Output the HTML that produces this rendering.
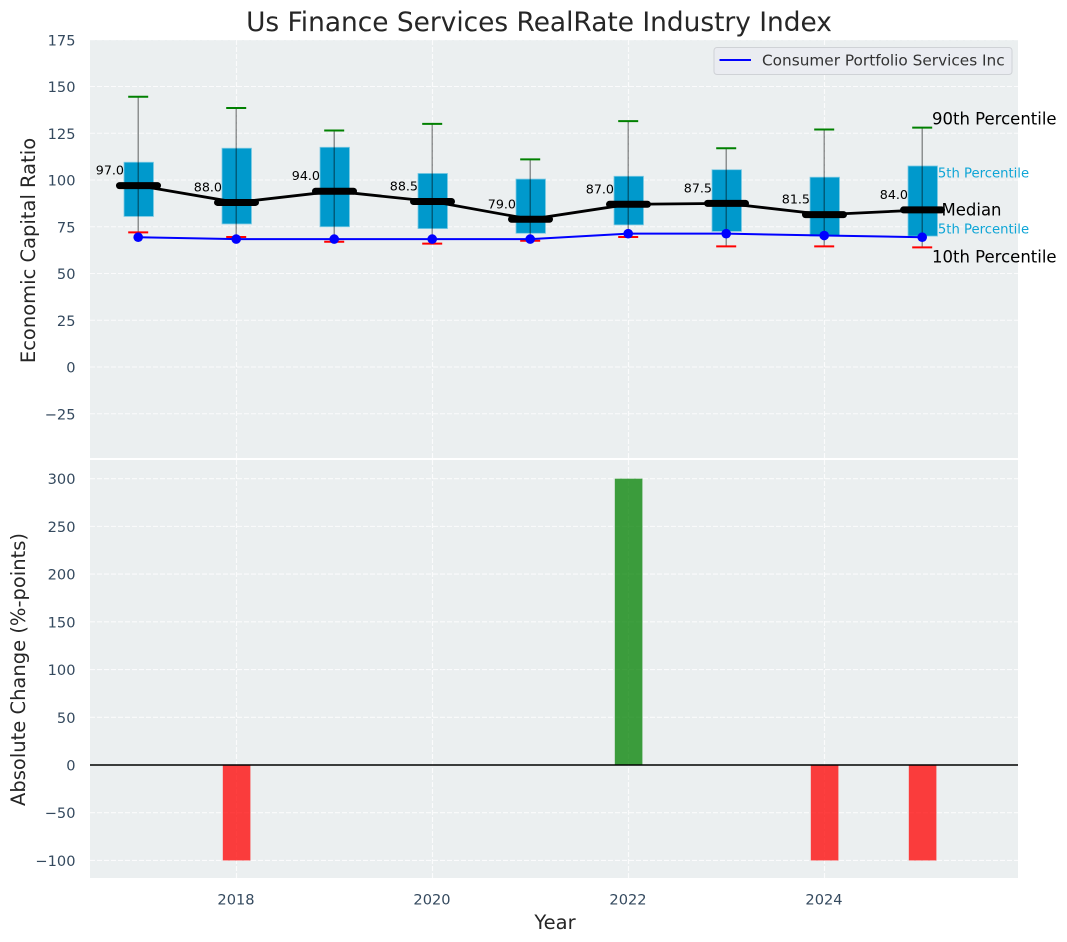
<!DOCTYPE html>
<html>
<head>
<meta charset="utf-8">
<title>Us Finance Services RealRate Industry Index</title>
<style>
html,body{margin:0;padding:0;background:#fff;}
svg{display:block;font-family:"DejaVu Sans","Liberation Sans",sans-serif;}
</style>
</head>
<body>
<svg id="chart" width="1067" height="942" viewBox="0 0 1067 942" xmlns="http://www.w3.org/2000/svg">
<defs>
<clipPath id="clip-top"><rect x="90" y="40" width="928" height="418"/></clipPath>
<clipPath id="clip-bottom"><rect x="90" y="460" width="928" height="418"/></clipPath>
</defs>
<text x="539" y="31" text-anchor="middle" font-size="26.4" fill="#262626">Us Finance Services RealRate Industry Index</text>
<rect x="90" y="40" width="928" height="418" fill="#ebeff0"/>
<rect x="90" y="460" width="928" height="418" fill="#ebeff0"/>
<g id="top-layer" clip-path="url(#clip-top)"></g>
<g id="bottom-layer" clip-path="url(#clip-bottom)"></g>
<g id="over-layer"></g>
<text transform="translate(35,250.500) rotate(-90)" text-anchor="middle" font-size="19.500" fill="#262626">Economic Capital Ratio</text>
<text transform="translate(25,669.500) rotate(-90)" text-anchor="middle" font-size="19.500" fill="#262626">Absolute Change (%-points)</text>
<text x="555" y="929" text-anchor="middle" font-size="19.500" fill="#262626">Year</text>
<g>
<rect x="714" y="47.500" width="298" height="27" rx="3" fill="#eaecf1" stroke="#cfd2d6" stroke-width="1"/>
<line x1="719.500" y1="60" x2="751" y2="60" stroke="#0000ff" stroke-width="2"/>
<text x="762" y="65.500" font-size="15.300" fill="#333333">Consumer Portfolio Services Inc</text>
</g>
<script>
const years = [2017, 2018, 2019, 2020, 2021, 2022, 2023, 2024, 2025];
const p90 = [144.5, 138.5, 126.5, 130, 111, 131.5, 117, 127, 128];
const q3 = [109.5, 117, 117.5, 103.5, 100.5, 102, 105.5, 101.5, 107.5];
const median = [97, 88, 94, 88.5, 79, 87, 87.5, 81.5, 84];
const q1 = [80.5, 76.5, 75, 74, 71.5, 76, 72.5, 70, 70];
const p10 = [72, 69.5, 67, 66, 67.5, 69.5, 64.5, 64.5, 64];
const company = [69.4, 68.4, 68.4, 68.4, 68.4, 71.3, 71.3, 70.3, 69.4];
const change = [0, -100, 0, 0, 0, 300, 0, -100, -100];
const xTicks = [2018, 2020, 2022, 2024];
const topTicks = [175, 150, 125, 100, 75, 50, 25, 0, -25];
const bottomTicks = [300, 250, 200, 150, 100, 50, 0, -50, -100];

const NS = 'http://www.w3.org/2000/svg';
const topLayer = document.getElementById('top-layer');
const bottomLayer = document.getElementById('bottom-layer');
const overLayer = document.getElementById('over-layer');
const chart = document.getElementById('chart');

function xScale(v) { return 236.5 + (v - 2018) * 98; }
function yTop(v) { return 367 - v * 1.87; }
function yBottom(v) { return 765 - v * 0.9545; }

function make(parent, tag, attrs, txt) {
  const el = document.createElementNS(NS, tag);
  for (const k in attrs) el.setAttribute(k, attrs[k]);
  if (txt !== undefined) el.textContent = txt;
  parent.appendChild(el);
  return el;
}
function mathLabel(v) { return v < 0 ? '\u2212' + Math.abs(v) : String(v); }

function drawGrid(layer, ticks, yFn, prefix, y1, y2) {
  ticks.forEach(function (t) {
    const g = make(layer, 'line', { x1: 90, x2: 1018, y1: yFn(t), y2: yFn(t), stroke: '#ffffff', 'stroke-width': 1.1, 'stroke-dasharray': '5 2', opacity: 0.8 });
    
    
    const lab = make(chart, 'text', { x: 75.5, y: yFn(t) + 5.5, 'text-anchor': 'end', 'font-size': 14.6, fill: '#34495e' }, mathLabel(t));
    
    
  });
  xTicks.forEach(function (t) {
    const g = make(layer, 'line', { x1: xScale(t), x2: xScale(t), y1: y1, y2: y2, stroke: '#ffffff', 'stroke-width': 1.1, 'stroke-dasharray': '5 2', opacity: 0.8 });
    
    
  });
}
drawGrid(topLayer, topTicks, yTop, 'top', 40, 458);
drawGrid(bottomLayer, bottomTicks, yBottom, 'bottom', 460, 878);

xTicks.forEach(function (t) {
  const lab = make(chart, 'text', { x: xScale(t) - 0.5, y: 904.5, 'text-anchor': 'middle', 'font-size': 14.6, fill: '#34495e' }, String(t));
  
  
});

/* percentile captions sit beneath the boxes */
const last = years.length - 1;
const lastX = xScale(years[last]);
const cap75 = make(overLayer, 'text', { x: lastX + 7, y: yTop(q3[last]) + 11.5, 'font-size': 13.2, fill: '#0ea5d6' }, '75th Percentile');


const cap25 = make(overLayer, 'text', { x: lastX + 7, y: yTop(q1[last]) - 2.5, 'font-size': 13.2, fill: '#0ea5d6' }, '25th Percentile');


const capMed = make(overLayer, 'text', { x: lastX + 19, y: yTop(median[last]) + 5.5, 'font-size': 16.5, fill: '#000000' }, 'Median');


const cap90 = make(overLayer, 'text', { x: lastX + 9.5, y: yTop(p90[last]) - 3, 'font-size': 16.5, fill: '#000000' }, '90th Percentile');


const cap10 = make(overLayer, 'text', { x: lastX + 9.5, y: yTop(p10[last]) + 15, 'font-size': 16.5, fill: '#000000' }, '10th Percentile');



/* boxes */
years.forEach(function (yr, i) {
  const x = xScale(yr);
  const box = make(overLayer, 'rect', { x: x - 14.5, y: yTop(q3[i]), width: 29.5, height: yTop(q1[i]) - yTop(q3[i]), fill: '#0099cc', stroke: '#7fcbe4', 'stroke-width': 0.8 });
  
  
  const lab = make(overLayer, 'text', { x: x - 14.5, y: yTop(median[i]) - 11, 'text-anchor': 'end', 'font-size': 12.7, fill: '#000000' }, median[i].toFixed(1));
  
  
});

/* whiskers and caps */
years.forEach(function (yr, i) {
  const x = xScale(yr);
  const wh = make(overLayer, 'line', { x1: x - 0.3, x2: x - 0.3, y1: yTop(p90[i]), y2: yTop(p10[i]), stroke: '#000000', 'stroke-opacity': 0.5, 'stroke-width': 1.2 });
  
  
  const up = make(overLayer, 'line', { x1: x - 10.3, x2: x + 9.7, y1: yTop(p90[i]), y2: yTop(p90[i]), stroke: '#008000', 'stroke-width': 2 });
  
  
  const lo = make(overLayer, 'line', { x1: x - 10.3, x2: x + 9.7, y1: yTop(p10[i]), y2: yTop(p10[i]), stroke: '#ff0000', 'stroke-width': 2 });
  
  
});

/* median line */
const medPts = years.map(function (yr, i) { return xScale(yr) + ',' + yTop(median[i]); }).join(' ');
const medLine = make(overLayer, 'polyline', { points: medPts, fill: 'none', stroke: '#000000', 'stroke-width': 2.8 });


years.forEach(function (yr, i) {
  const x = xScale(yr);
  const m = make(overLayer, 'line', { x1: x - 19, x2: x + 19, y1: yTop(median[i]), y2: yTop(median[i]), stroke: '#000000', 'stroke-width': 7, 'stroke-linecap': 'round' });
  
  
});

/* company line */
const coPts = years.map(function (yr, i) { return xScale(yr) + ',' + yTop(company[i]); }).join(' ');
const coLine = make(overLayer, 'polyline', { points: coPts, fill: 'none', stroke: '#0000ff', 'stroke-width': 2 });


years.forEach(function (yr, i) {
  const c = make(overLayer, 'circle', { cx: xScale(yr) - 0.3, cy: yTop(company[i]), r: 4.8, fill: '#0000ff' });
  
  
});

/* change bars */
years.forEach(function (yr, i) {
  if (change[i] === 0) return;
  const x = xScale(yr);
  const y0 = yBottom(Math.max(change[i], 0));
  const y1 = yBottom(Math.min(change[i], 0));
  const b = make(bottomLayer, 'rect', { x: x - 13.7, y: y0, width: 27.6, height: y1 - y0, fill: change[i] > 0 ? '#008000' : '#ff0000', 'fill-opacity': 0.75 });
  
  
});
const zero = make(bottomLayer, 'line', { x1: 90, x2: 1018, y1: yBottom(0), y2: yBottom(0), stroke: '#000000', 'stroke-width': 1.5 });


</script>
</svg>
</body>
</html>
